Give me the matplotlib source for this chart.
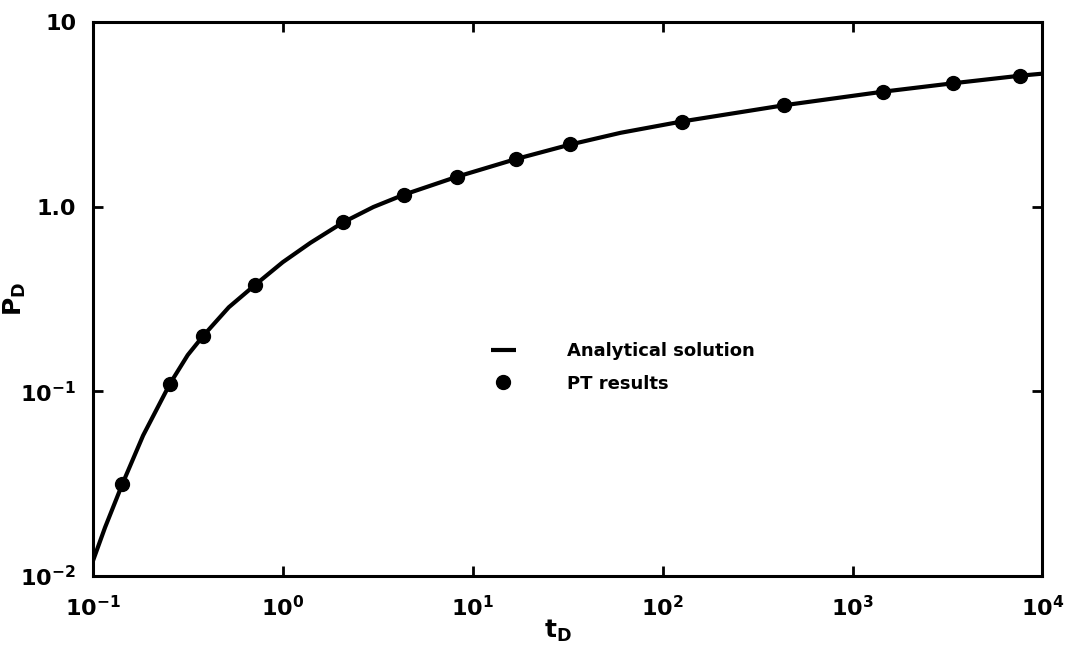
import matplotlib.pyplot as plt

# analytical solution
curve_t = [0.1, 0.116, 0.143, 0.184, 0.255, 0.316, 0.382, 0.52, 0.716, 1.0, 1.4, 2.08,
           3.0, 4.34, 8.24, 16.9, 32.7, 60, 126, 436, 1440, 3400, 7650, 10000]
curve_p = [0.012, 0.0183, 0.0314, 0.0576, 0.110, 0.157, 0.200, 0.285, 0.377, 0.50, 0.637, 0.822,
           0.995, 1.16, 1.45, 1.81, 2.17, 2.51, 2.89, 3.54, 4.19, 4.66, 5.12, 5.25]

# PT results (dots)
pt_t = [0.143, 0.255, 0.382, 0.716, 2.08, 4.34, 8.24, 16.9, 32.7, 126, 436, 1440, 3400, 7650]
pt_p = [0.0314, 0.110, 0.200, 0.377, 0.822, 1.16, 1.45, 1.81, 2.17, 2.89, 3.54, 4.19, 4.66, 5.12]

xticks = [1e-1, 1e0, 1e1, 1e2, 1e3, 1e4]
xlabels = [r'$10^{-1}$', r'$10^{0}$', r'$10^{1}$', r'$10^{2}$', r'$10^{3}$', r'$10^{4}$']
yticks = [1e-2, 1e-1, 1e0, 1e1]
ylabels = [r'$10^{-2}$', r'$10^{-1}$', '1.0', '10']

plt.rcParams['font.family'] = 'DejaVu Sans'
plt.rcParams['font.weight'] = 'bold'
plt.rcParams['mathtext.fontset'] = 'dejavusans'
plt.rcParams['mathtext.default'] = 'bf'

fig = plt.figure(figsize=(10.67, 6.47), dpi=100)
ax = fig.add_axes([0.087, 0.110, 0.890, 0.856])

ax.plot(curve_t, curve_p, color='black', lw=3, solid_capstyle='butt',
        solid_joinstyle='round', label='Analytical solution')
ax.plot(pt_t, pt_p, 'o', color='black', ms=10, label='PT results')

ax.set_xscale('log')
ax.set_yscale('log')
ax.set_xlim(1e-1, 1e4)
ax.set_ylim(1e-2, 10)

ax.set_xticks(xticks)
ax.set_xticklabels(xlabels)
ax.set_yticks(yticks)
ax.set_yticklabels(ylabels)
ax.minorticks_off()
ax.tick_params(direction='in', length=7, width=2, labelsize=16,
               top=True, right=True)
ax.tick_params(axis='x', pad=14)
ax.tick_params(axis='y', pad=12)

for s in ax.spines.values():
    s.set_linewidth(2.2)

ax.set_xlabel(r'$t_D$', fontsize=18)
ax.xaxis.set_label_coords(0.49, -0.075)
ax.set_ylabel(r'$P_D$', fontsize=18)
ax.yaxis.set_label_coords(-0.068, 0.5)

ax.legend(loc='upper left', bbox_to_anchor=(0.402, 0.451), frameon=False,
          fontsize=13, handlelength=1.4, handletextpad=2.8, labelspacing=0.8)

plt.savefig('out.png')
